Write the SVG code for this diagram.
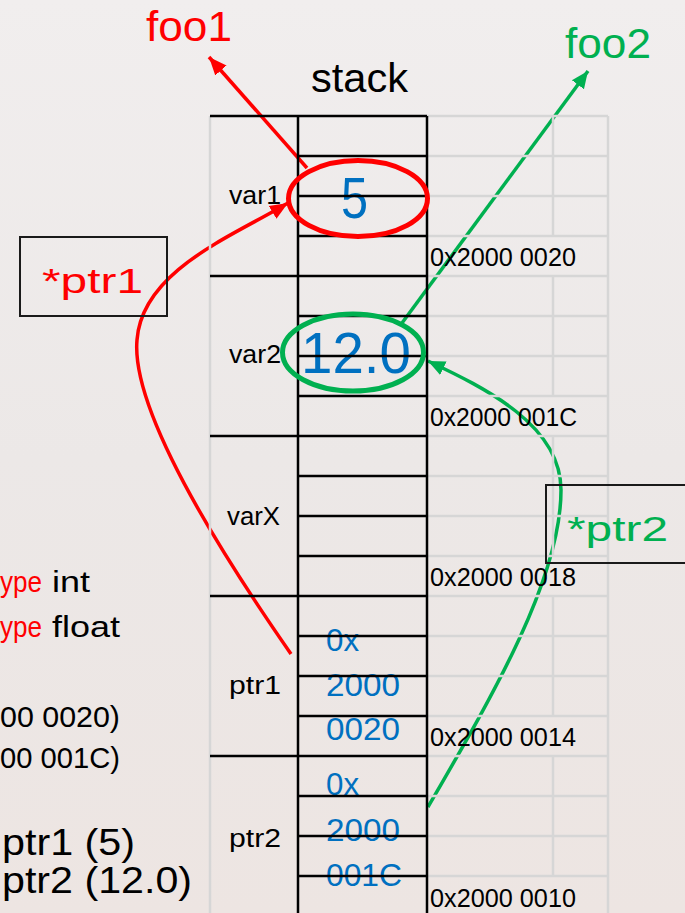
<svg xmlns="http://www.w3.org/2000/svg" width="685" height="913" viewBox="0 0 685 913">
<defs>
<linearGradient id="bg" x1="0" y1="0" x2="0" y2="1">
<stop offset="0" stop-color="#F1EEEE"/>
<stop offset="0.5" stop-color="#ECE8E7"/>
<stop offset="1" stop-color="#EDE5E2"/>
</linearGradient>
<marker id="ahRed" markerUnits="userSpaceOnUse" markerWidth="19" markerHeight="17" viewBox="0 0 19 17" refX="18" refY="8.5" orient="auto">
<path d="M0,1 L18,8.5 L0,16 z" fill="#FF0000"/>
</marker>
<marker id="ahGreen" markerUnits="userSpaceOnUse" markerWidth="19" markerHeight="17" viewBox="0 0 19 17" refX="17" refY="8.5" orient="auto">
<path d="M0,1 L17,8.5 L0,16 z" fill="#00B050"/>
</marker>
<style>
text{font-family:"Liberation Sans",Arial,sans-serif;}
.blk{fill:#000;}
.red{fill:#FF0000;}
.grn{fill:#00B050;}
.lbl{font-size:26px;fill:#000;}
.addr{font-size:26px;fill:#000;}
.hex{font-size:32px;fill:#0070C0;}
.val{font-size:57px;fill:#0070C0;}
.big{font-size:43px;}
.side{font-size:30px;}
.side2{font-size:36px;fill:#000;}
.gl{stroke:#D6D6D6;stroke-width:2.5;fill:none;}
.bl{stroke:#000;stroke-width:2.5;fill:none;}
.box{stroke:#1A1A1A;stroke-width:2;fill:none;}
.cr{stroke:#FF0000;stroke-width:3.5;fill:none;}
.cg{stroke:#00B050;stroke-width:3.5;fill:none;}
</style>
</defs>
<rect x="0" y="0" width="685" height="913" fill="url(#bg)"/>

<g id="connectors">
<path class="cr" d="M307,168 L209,57" marker-end="url(#ahRed)"/>
<path class="cr" d="M291,654 C250,595 130,420 137,340 C142,270 235,235 288,203" marker-end="url(#ahRed)"/>
<path class="cg" d="M402,323 L588,71" marker-end="url(#ahGreen)"/>
<path class="cg" d="M428,807 C490,700 561,580 561,490 C561,425 485,388 428,361" marker-end="url(#ahGreen)"/>
</g>

<g id="grid-gray">
<path class="gl" d="M210,116 V913 M608,116 V913 M553,116 V236 M553,276 V396 M553,436 V556 M553,596 V716 M553,756 V876"/>
<path class="gl" d="M427,116 H608 M427,156 H608 M427,196 H608 M427,236 H608 M427,276 H608 M427,316 H608 M427,356 H608 M427,396 H608 M427,436 H608 M427,476 H608 M427,516 H608 M427,556 H608 M427,596 H608 M427,636 H608 M427,676 H608 M427,716 H608 M427,756 H608 M427,796 H608 M427,836 H608 M427,876 H608"/>
</g>

<g id="stack-title">
<text class="blk" x="311" y="92" font-size="41" textLength="97" lengthAdjust="spacingAndGlyphs">stack</text>
</g>
<g id="foo1">
<text class="red big" x="146" y="41" textLength="86" lengthAdjust="spacingAndGlyphs">foo1</text>
</g>
<g id="foo2">
<text class="grn big" x="565" y="58" textLength="86" lengthAdjust="spacingAndGlyphs">foo2</text>
</g>

<g id="ptr1-deref">
<rect class="box" x="20" y="237" width="147" height="79"/>
<text class="red" x="42" y="293" font-size="35" textLength="101" lengthAdjust="spacingAndGlyphs">*ptr1</text>
</g>
<g id="ptr2-deref">
<rect class="box" x="546" y="485" width="150" height="78"/>
<text class="grn" x="567" y="541" font-size="35" textLength="101" lengthAdjust="spacingAndGlyphs">*ptr2</text>
</g>

<g id="var1">
<text class="lbl" x="229" y="204" textLength="52" lengthAdjust="spacingAndGlyphs">var1</text>
<text class="val" x="341" y="218" textLength="27" lengthAdjust="spacingAndGlyphs">5</text>
<text class="addr" x="430" y="266" textLength="146" lengthAdjust="spacingAndGlyphs">0x2000 0020</text>
</g>
<g id="var2">
<text class="lbl" x="229" y="363" textLength="52" lengthAdjust="spacingAndGlyphs">var2</text>
<text class="val" x="301" y="373" textLength="110" lengthAdjust="spacingAndGlyphs">12.0</text>
<text class="addr" x="430" y="426" textLength="147" lengthAdjust="spacingAndGlyphs">0x2000 001C</text>
</g>
<g id="varX">
<text class="lbl" x="227" y="525" textLength="53" lengthAdjust="spacingAndGlyphs">varX</text>
<text class="addr" x="430" y="586" textLength="146" lengthAdjust="spacingAndGlyphs">0x2000 0018</text>
</g>
<g id="ptr1">
<text class="lbl" x="229" y="694" textLength="52" lengthAdjust="spacingAndGlyphs">ptr1</text>
<text class="hex" x="326" y="651" textLength="33" lengthAdjust="spacingAndGlyphs">0x</text>
<text class="hex" x="326" y="696" textLength="74" lengthAdjust="spacingAndGlyphs">2000</text>
<text class="hex" x="326" y="740" textLength="74" lengthAdjust="spacingAndGlyphs">0020</text>
<text class="addr" x="430" y="746" textLength="146" lengthAdjust="spacingAndGlyphs">0x2000 0014</text>
</g>
<g id="ptr2">
<text class="lbl" x="229" y="847" textLength="52" lengthAdjust="spacingAndGlyphs">ptr2</text>
<text class="hex" x="326" y="795" textLength="33" lengthAdjust="spacingAndGlyphs">0x</text>
<text class="hex" x="326" y="841" textLength="74" lengthAdjust="spacingAndGlyphs">2000</text>
<text class="hex" x="326" y="886" textLength="76" lengthAdjust="spacingAndGlyphs">001C</text>
<text class="addr" x="430" y="907" textLength="146" lengthAdjust="spacingAndGlyphs">0x2000 0010</text>
</g>

<g id="side-notes">
<text class="red side" x="0" y="592" textLength="42" lengthAdjust="spacingAndGlyphs">ype</text>
<text class="blk side" x="52" y="592" textLength="38" lengthAdjust="spacingAndGlyphs">int</text>
<text class="red side" x="0" y="637" textLength="42" lengthAdjust="spacingAndGlyphs">ype</text>
<text class="blk side" x="52" y="637" textLength="68" lengthAdjust="spacingAndGlyphs">float</text>
<text class="blk side" x="0" y="727" textLength="120" lengthAdjust="spacingAndGlyphs">00 0020)</text>
<text class="blk side" x="0" y="768" textLength="120" lengthAdjust="spacingAndGlyphs">00 001C)</text>
<text class="side2" x="2" y="855" textLength="133" lengthAdjust="spacingAndGlyphs">ptr1 (5)</text>
<text class="side2" x="2" y="893" textLength="190" lengthAdjust="spacingAndGlyphs">ptr2 (12.0)</text>
</g>

<g id="grid-black">
<path class="bl" d="M298,116 V913 M427,116 V913"/>
<path class="bl" d="M210,116 H427 M298,156 H427 M298,196 H427 M298,236 H427 M210,276 H427 M298,316 H427 M298,356 H427 M298,396 H427 M210,436 H427 M298,476 H427 M298,516 H427 M298,556 H427 M210,596 H427 M298,636 H427 M298,676 H427 M298,716 H427 M210,756 H427 M298,796 H427 M298,836 H427 M298,876 H427"/>
</g>

<g id="highlights">
<ellipse cx="358" cy="198.5" rx="69.5" ry="38" fill="none" stroke="#FF0000" stroke-width="5"/>
<ellipse cx="353" cy="352.5" rx="70.5" ry="38.5" fill="none" stroke="#00B050" stroke-width="5"/>
</g>
</svg>
